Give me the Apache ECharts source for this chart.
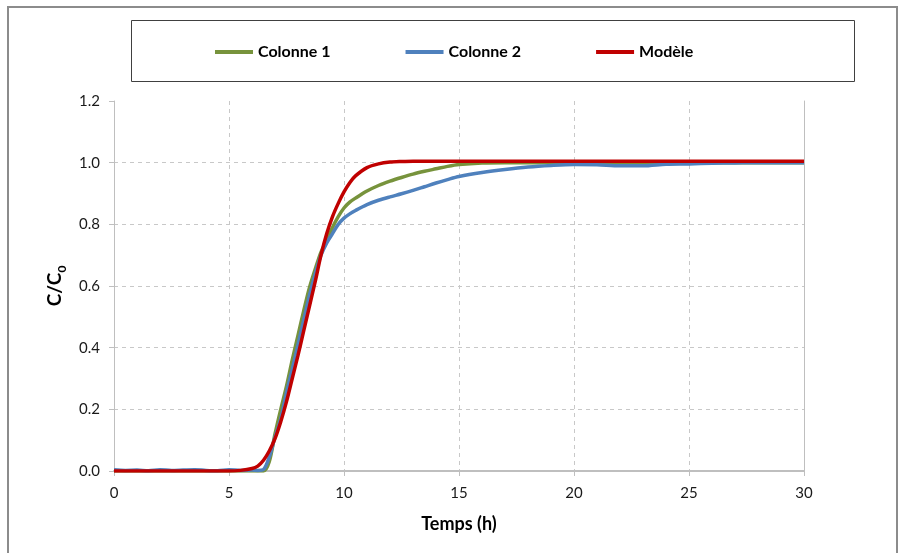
<!DOCTYPE html>
<html>
<head>
<meta charset="utf-8">
<script src="https://cdn.jsdelivr.net/npm/echarts@6/dist/echarts.min.js"></script>
<style>
  html, body { margin: 0; padding: 0; background: #fff; }
  #main { width: 906px; height: 553px; }
</style>
</head>
<body>
<div id="main"></div>
<script>
// temps (h)
var temps = [0, 0.5, 1, 1.5, 2, 2.5, 3, 3.5, 4, 4.5, 5, 5.5, 6,
    6.25, 6.5, 6.75, 7, 7.25, 7.5, 7.75, 8, 8.25, 8.5, 8.75, 9, 9.25, 9.5, 9.75, 10, 10.25, 10.5,
    11, 11.5, 12, 12.5, 13, 13.5, 14, 14.5, 15,
    16, 17, 18, 19, 20, 21, 22, 23, 24, 25, 26, 27, 28, 29, 30];

var colonne1 = [0, 0, 0, 0, 0, 0, 0, 0, 0, 0, 0, 0, 0,
    0, 0, 0.03, 0.12, 0.2, 0.275, 0.36, 0.44, 0.52, 0.595, 0.655, 0.71, 0.748, 0.79, 0.825, 0.853, 0.872, 0.885,
    0.908, 0.926, 0.94, 0.952, 0.963, 0.972, 0.98, 0.988, 0.994,
    0.999, 1.0, 1.0, 1.0, 1.0, 1.0, 1.0, 1.0, 1.0, 1.0, 1.0, 1.0, 1.0, 1.0, 1.0];

var colonne2 = [0.004, 0.002, 0.003, 0.001, 0.004, 0.002, 0.003, 0.004, 0.002, 0.001, 0.004, 0.002, 0.003,
    0.002, 0.005, 0.045, 0.11, 0.17, 0.255, 0.33, 0.41, 0.49, 0.57, 0.64, 0.7, 0.74, 0.77, 0.8, 0.82, 0.834, 0.845,
    0.864, 0.878, 0.889, 0.899, 0.91, 0.922, 0.934, 0.945, 0.955,
    0.968, 0.978, 0.986, 0.991, 0.994, 0.993, 0.99, 0.99, 0.995, 0.996, 0.998, 0.999, 1.0, 1.0, 1.0];

var modele = [0, 0, 0, 0, 0, 0, 0, 0, 0, 0, 0, 0.002, 0.008,
    0.016, 0.035, 0.065, 0.105, 0.16, 0.225, 0.3, 0.375, 0.455, 0.535, 0.615, 0.7, 0.77, 0.825, 0.868, 0.905, 0.935, 0.957,
    0.984, 0.996, 1.002, 1.004, 1.005, 1.005, 1.005, 1.005, 1.005,
    1.005, 1.005, 1.005, 1.005, 1.005, 1.005, 1.005, 1.005, 1.005, 1.005, 1.005, 1.005, 1.005, 1.005, 1.005];

var noms = ['Colonne 1', 'Colonne 2', 'Modèle'];
var couleurs = ['#77933C', '#4F81BD', '#C00000'];

function paires(vals) {
    return temps.map(function (t, i) { return [t, vals[i]]; });
}

var myChart = echarts.init(document.getElementById('main'));

var police = 'Lato, "Open Sans", sans-serif';

var option = {
    backgroundColor: '#fff',
    animation: false,
    textStyle: { fontFamily: police },
    graphic: [
        {
            type: 'rect',
            shape: { x: 8, y: 7, width: 889, height: 570 },
            style: { fill: 'none', stroke: '#8c8c8c', lineWidth: 2 },
            z: -10
        },
        {
            type: 'rect',
            shape: { x: 131.5, y: 20.5, width: 723, height: 61 },
            style: { fill: 'none', stroke: '#404040', lineWidth: 1 },
            z: -10
        }
    ],
    legend: {
        left: 210,
        top: 39,
        itemWidth: 38,
        itemHeight: 4,
        itemGap: 75,
        icon: 'rect',
        selectedMode: false,
        textStyle: { fontSize: 16, fontWeight: 'bold', color: '#000', fontFamily: police },
        data: noms
    },
    grid: {
        left: 114,
        right: 102,
        top: 101,
        bottom: 82
    },
    xAxis: {
        type: 'value',
        min: 0,
        max: 30,
        interval: 5,
        name: 'Temps (h)',
        nameLocation: 'middle',
        nameGap: 44,
        nameTextStyle: { fontSize: 18, fontWeight: 'bold', color: '#000' },
        axisLine: { show: true, lineStyle: { color: '#bfbfbf', width: 2 } },
        axisTick: { show: true, length: 5, lineStyle: { color: '#bfbfbf' } },
        axisLabel: { fontSize: 15, color: '#1a1a1a', margin: 15 },
        splitLine: { show: true, showMaxLine: false, lineStyle: { color: '#c8c8c8', type: [4, 4] } }
    },
    yAxis: [
        {
            type: 'value',
            min: 0,
            max: 1.2,
            interval: 0.2,
            name: '{a|C/C}{b|0}',
            nameLocation: 'middle',
            nameGap: 46,
            nameRotate: 90,
            nameTextStyle: {
                rich: {
                    a: { fontSize: 19, fontWeight: 'bold', color: '#000', fontFamily: police },
                    b: { fontSize: 12, fontWeight: 'bold', color: '#000', fontFamily: police, padding: [14, 0, 0, 0] }
                }
            },
            axisLine: { show: true, lineStyle: { color: '#bfbfbf' } },
            axisTick: { show: true, length: 5, lineStyle: { color: '#bfbfbf' } },
            axisLabel: {
                fontSize: 15, color: '#1a1a1a', margin: 14,
                formatter: function (v) { return v.toFixed(1); }
            },
            splitLine: { show: true, showMaxLine: false, lineStyle: { color: '#c8c8c8', type: [4, 4] } }
        },
        {
            type: 'value',
            position: 'right',
            min: 0,
            max: 1.2,
            axisLine: { show: true, lineStyle: { color: '#bfbfbf' } },
            axisTick: { show: false },
            axisLabel: { show: false },
            splitLine: { show: false }
        }
    ],
    series: noms.map(function (nom, k) {
        return {
            name: nom,
            type: 'line',
            yAxisIndex: 0,
            symbol: 'none',
            smooth: 0.3,
            color: couleurs[k],
            lineStyle: { width: 3.5, color: couleurs[k] },
            data: paires([colonne1, colonne2, modele][k])
        };
    })
};

myChart.setOption(option);
</script>
</body>
</html>
